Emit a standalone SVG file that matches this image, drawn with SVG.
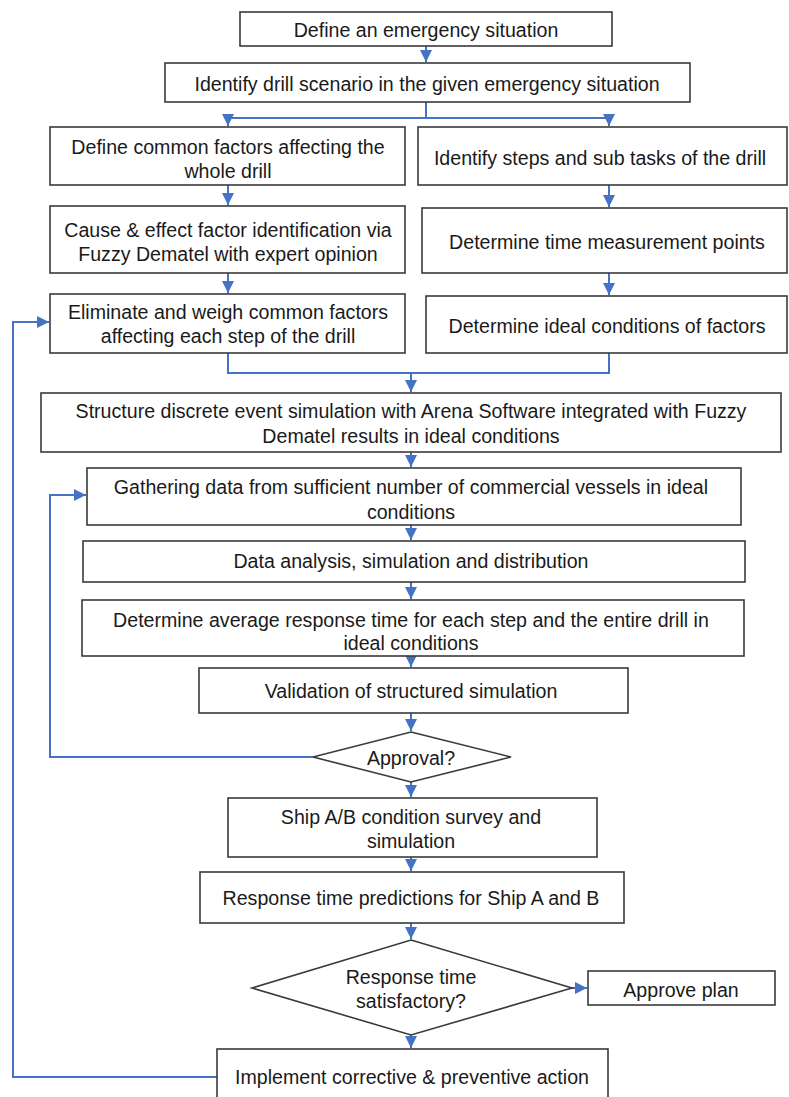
<svg xmlns="http://www.w3.org/2000/svg" width="789" height="1097" viewBox="0 0 789 1097">
<defs>
<style>
.box{fill:#fff;stroke:#3a3a3a;stroke-width:1.6}
.t{font-family:"Liberation Sans",Arial,sans-serif;font-size:19.6px;fill:#1a1a1a;text-anchor:middle}
.c{fill:none;stroke:#4472C4;stroke-width:2}
</style>
<marker id="a" markerUnits="userSpaceOnUse" markerWidth="12" markerHeight="12" refX="10" refY="5" orient="auto" viewBox="0 0 10 10">
<path d="M0,0 L10,5 L0,10 z" fill="#4472C4"/>
</marker>
</defs>
<rect width="789" height="1097" fill="#fff"/>
<g id="connectors">
<line class="c" x1="426" y1="46" x2="426" y2="62" marker-end="url(#a)"/>
<path class="c" d="M426,102 V118 M228,118 H609"/>
<line class="c" x1="228" y1="118" x2="228" y2="126" marker-end="url(#a)"/>
<line class="c" x1="609" y1="118" x2="609" y2="126" marker-end="url(#a)"/>
<line class="c" x1="228" y1="185" x2="228" y2="205" marker-end="url(#a)"/>
<line class="c" x1="609" y1="185" x2="609" y2="207" marker-end="url(#a)"/>
<line class="c" x1="228" y1="273" x2="228" y2="293" marker-end="url(#a)"/>
<line class="c" x1="609" y1="273" x2="609" y2="295" marker-end="url(#a)"/>
<path class="c" d="M228,353 V373 H609 V353"/>
<line class="c" x1="411" y1="373" x2="411" y2="392" marker-end="url(#a)"/>
<line class="c" x1="411" y1="452" x2="411" y2="467" marker-end="url(#a)"/>
<line class="c" x1="411" y1="525" x2="411" y2="540" marker-end="url(#a)"/>
<line class="c" x1="411" y1="582" x2="411" y2="599" marker-end="url(#a)"/>
<line class="c" x1="411" y1="656" x2="411" y2="667" marker-end="url(#a)"/>
<line class="c" x1="411" y1="713" x2="411" y2="731" marker-end="url(#a)"/>
<path class="c" d="M313,757 H50 V495 H86" marker-end="url(#a)"/>
<line class="c" x1="411" y1="782" x2="411" y2="797" marker-end="url(#a)"/>
<line class="c" x1="411" y1="857" x2="411" y2="871" marker-end="url(#a)"/>
<line class="c" x1="411" y1="923" x2="411" y2="939" marker-end="url(#a)"/>
<line class="c" x1="572" y1="988" x2="587" y2="988" marker-end="url(#a)"/>
<line class="c" x1="411" y1="1035" x2="411" y2="1048" marker-end="url(#a)"/>
<path class="c" d="M217,1077 H13 V322 H49" marker-end="url(#a)"/>
</g>
<g id="n1"><rect class="box" x="240" y="12" width="372" height="34"/><text class="t" x="426" y="36.5">Define an emergency situation</text></g>
<g id="n2"><rect class="box" x="165" y="63" width="525" height="39"/><text class="t" x="427" y="91">Identify drill scenario in the given emergency situation</text></g>
<g id="n3"><rect class="box" x="50" y="127" width="355" height="58"/><text class="t" x="228" y="153.5">Define common factors affecting the</text><text class="t" x="228" y="177.5">whole drill</text></g>
<g id="n4"><rect class="box" x="418" y="127" width="369" height="58"/><text class="t" x="600" y="165">Identify steps and sub tasks of the drill</text></g>
<g id="n5"><rect class="box" x="50" y="206" width="355" height="67"/><text class="t" x="228" y="237">Cause &amp; effect factor identification via</text><text class="t" x="228" y="261">Fuzzy Dematel with expert opinion</text></g>
<g id="n6"><rect class="box" x="422" y="208" width="365" height="65"/><text class="t" x="607" y="249">Determine time measurement points</text></g>
<g id="n7"><rect class="box" x="50" y="294" width="355" height="59"/><text class="t" x="228" y="319">Eliminate and weigh common factors</text><text class="t" x="228" y="343">affecting each step of the drill</text></g>
<g id="n8"><rect class="box" x="426" y="296" width="361" height="57"/><text class="t" x="607" y="333">Determine ideal conditions of factors</text></g>
<g id="n9"><rect class="box" x="41" y="393" width="740" height="59"/><text class="t" x="411" y="418">Structure discrete event simulation with Arena Software integrated with Fuzzy</text><text class="t" x="411" y="443">Dematel results in ideal conditions</text></g>
<g id="n10"><rect class="box" x="87" y="468" width="654" height="57"/><text class="t" x="411" y="494">Gathering data from sufficient number of commercial vessels in ideal</text><text class="t" x="411" y="519">conditions</text></g>
<g id="n11"><rect class="box" x="83" y="541" width="662" height="41"/><text class="t" x="411" y="568">Data analysis, simulation and distribution</text></g>
<g id="n12"><rect class="box" x="82" y="600" width="662" height="56"/><text class="t" x="411" y="627">Determine average response time for each step and the entire drill in</text><text class="t" x="411" y="650">ideal conditions</text></g>
<g id="n13"><rect class="box" x="199" y="668" width="429" height="45"/><text class="t" x="411" y="698">Validation of structured simulation</text></g>
<g id="n14"><polygon class="box" points="411,732 511,757 411,782 313,757"/><text class="t" x="411" y="765">Approval?</text></g>
<g id="n15"><rect class="box" x="228" y="798" width="369" height="59"/><text class="t" x="411" y="824">Ship A/B condition survey and</text><text class="t" x="411" y="848">simulation</text></g>
<g id="n16"><rect class="box" x="200" y="872" width="424" height="51"/><text class="t" x="411" y="905">Response time predictions for Ship A and B</text></g>
<g id="n17"><polygon class="box" points="411,940 572,988 411,1035 252,988"/><text class="t" x="411" y="984">Response time</text><text class="t" x="411" y="1008">satisfactory?</text></g>
<g id="n18"><rect class="box" x="588" y="971" width="187" height="34"/><text class="t" x="681" y="997">Approve plan</text></g>
<g id="n19"><rect class="box" x="217" y="1049" width="391" height="60"/><text class="t" x="412" y="1084">Implement corrective &amp; preventive action</text></g>
</svg>
